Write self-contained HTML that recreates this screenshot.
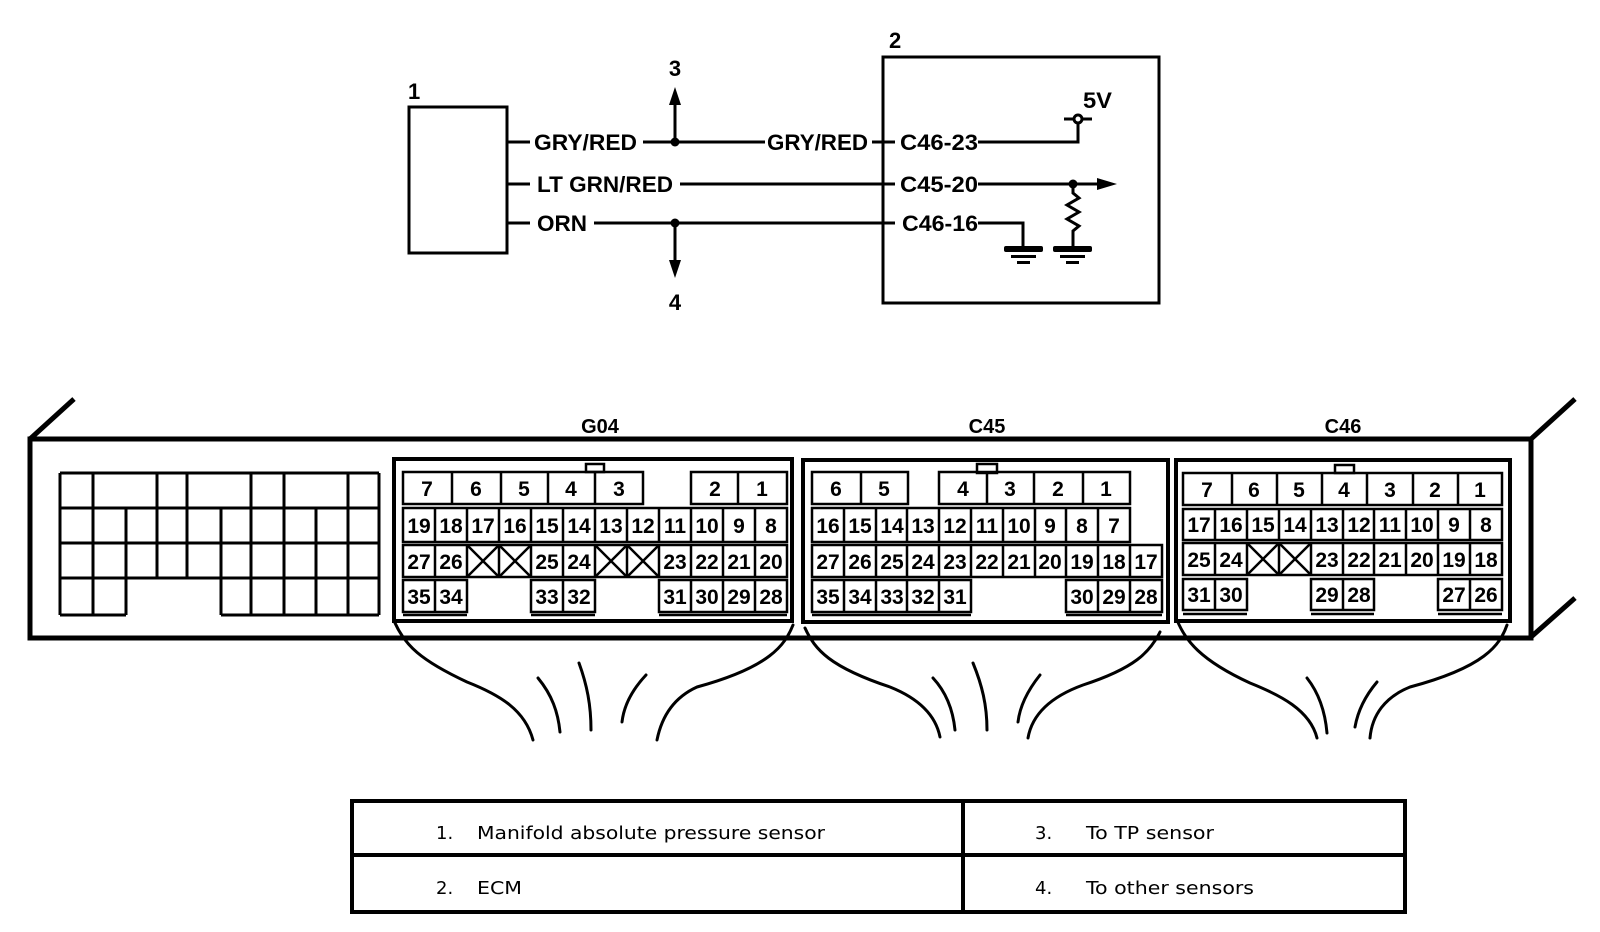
<!DOCTYPE html>
<html><head><meta charset="utf-8"><style>
html,body{margin:0;padding:0;background:#fff;}
svg{display:block;}
.b{font-family:"Liberation Sans",sans-serif;font-weight:bold;}
.n{font-family:"Liberation Sans",sans-serif;font-weight:bold;font-size:21px;text-anchor:middle;}
.t{font-family:"DejaVu Sans","Liberation Sans",sans-serif;font-size:18px;}
</style></head><body>
<svg width="1600" height="932" viewBox="0 0 1600 932" xmlns="http://www.w3.org/2000/svg">
<g fill="none" stroke="#000" stroke-width="3">
<rect x="409" y="107" width="98" height="146"/>
<rect x="883" y="57" width="276" height="246"/>
<line x1="507" y1="142" x2="530" y2="142"/>
<line x1="643" y1="142" x2="765" y2="142"/>
<line x1="872" y1="142" x2="895" y2="142"/>
<line x1="507" y1="184" x2="530" y2="184"/>
<line x1="680" y1="184" x2="895" y2="184"/>
<line x1="507" y1="223" x2="530" y2="223"/>
<line x1="594" y1="223" x2="895" y2="223"/>
<line x1="675" y1="142" x2="675" y2="100"/>
<line x1="675" y1="223" x2="675" y2="265"/>
<polyline points="978,142 1078,142 1078,123"/>
<circle cx="1078" cy="119" r="4" fill="#fff"/>
<line x1="1064" y1="119" x2="1074" y2="119"/>
<line x1="1082" y1="119" x2="1092" y2="119"/>
<line x1="978" y1="184" x2="1100" y2="184"/>
<polyline points="978,223 1023,223 1023,249"/>
<polyline points="1073,184 1073,193 1079,198 1067,205 1079,212 1067,219 1079,226 1073,231 1073,249"/>
</g>
<g fill="#000">
<circle cx="675" cy="142" r="4.5"/>
<circle cx="675" cy="223" r="4.5"/>
<circle cx="1073" cy="184" r="4.5"/>
<polygon points="675,87 669,105 681,105"/>
<polygon points="675,278 669,260 681,260"/>
<polygon points="1117,184 1097,178 1097,190"/>
<rect x="1004" y="246" width="39" height="6" rx="2"/>
<rect x="1011" y="255" width="25" height="3"/>
<rect x="1017" y="261" width="13" height="3"/>
<rect x="1053" y="246" width="39" height="6" rx="2"/>
<rect x="1060" y="255" width="25" height="3"/>
<rect x="1066" y="261" width="13" height="3"/>
</g>
<g class="b" font-size="22">
<text x="408" y="99">1</text>
<text x="889" y="48">2</text>
<text x="675" y="76" text-anchor="middle">3</text>
<text x="675" y="310" text-anchor="middle">4</text>
<text x="534" y="150" textLength="103" lengthAdjust="spacingAndGlyphs">GRY/RED</text>
<text x="767" y="150" textLength="101" lengthAdjust="spacingAndGlyphs">GRY/RED</text>
<text x="537" y="192" textLength="136" lengthAdjust="spacingAndGlyphs">LT GRN/RED</text>
<text x="537" y="231" textLength="50" lengthAdjust="spacingAndGlyphs">ORN</text>
<text x="900" y="150" textLength="78" lengthAdjust="spacingAndGlyphs">C46-23</text>
<text x="900" y="192" textLength="78" lengthAdjust="spacingAndGlyphs">C45-20</text>
<text x="902" y="231" textLength="76" lengthAdjust="spacingAndGlyphs">C46-16</text>
<text x="1083" y="108" textLength="29" lengthAdjust="spacingAndGlyphs">5V</text>
</g>

<g fill="none" stroke="#000" stroke-width="5">
<rect x="30" y="439" width="1501" height="199"/>
<line x1="30" y1="439" x2="74" y2="399"/>
<line x1="1531" y1="439" x2="1575" y2="399"/>
<line x1="1531" y1="637" x2="1575" y2="598"/>
</g>
<g fill="none" stroke="#000" stroke-width="3">
<path d="M60 473H379M60 508H379M60 543H379M60 578H379M60 615H126M221 615H379
M60 473V615M379 473V615M93 473V615M126 508V615M157 473V578M187 473V578M221 508V615M251 473V615M284 473V615M316 508V615M348 473V615"/>
</g>
<g fill="none" stroke="#000" stroke-width="4">
<rect x="394" y="459" width="398" height="162"/>
<rect x="803" y="460" width="365" height="162"/>
<rect x="1176" y="460" width="334" height="161"/>
</g>
<g fill="none" stroke="#000" stroke-width="2.5">
<rect x="586" y="464" width="18" height="8"/>
<rect x="977" y="464" width="20" height="9"/>
<rect x="1335" y="465" width="19" height="8"/>
<rect x="403" y="472" width="240" height="32"/>
<path d="M452 472V504M501 472V504M548 472V504M595 472V504"/>
<rect x="691" y="472" width="96" height="32"/>
<path d="M738 472V504"/>
<rect x="403" y="508" width="384" height="34"/>
<path d="M435 508V542M467 508V542M499 508V542M531 508V542M563 508V542M595 508V542M627 508V542M659 508V542M691 508V542M723 508V542M755 508V542"/>
<rect x="403" y="545" width="384" height="32"/>
<path d="M435 545V577M467 545V577M499 545V577M531 545V577M563 545V577M595 545V577M627 545V577M659 545V577M691 545V577M723 545V577M755 545V577"/>
<path d="M467 545L499 577M499 545L467 577M499 545L531 577M531 545L499 577M595 545L627 577M627 545L595 577M627 545L659 577M659 545L627 577"/>
<rect x="403" y="580" width="64" height="32"/><path d="M435 580V612M403 615H467"/>
<rect x="531" y="580" width="64" height="32"/><path d="M563 580V612M531 615H595"/>
<rect x="659" y="580" width="128" height="32"/><path d="M691 580V612M723 580V612M755 580V612M659 615H787"/>
<rect x="812" y="472" width="96" height="32"/><path d="M861 472V504"/>
<rect x="939" y="472" width="191" height="32"/><path d="M987 472V504M1034 472V504M1083 472V504"/>
<rect x="812" y="508" width="318" height="34"/>
<path d="M844 508V542M876 508V542M907 508V542M939 508V542M971 508V542M1003 508V542M1035 508V542M1066 508V542M1098 508V542"/>
<rect x="812" y="545" width="350" height="32"/>
<path d="M844 545V577M876 545V577M907 545V577M939 545V577M971 545V577M1003 545V577M1035 545V577M1066 545V577M1098 545V577M1130 545V577"/>
<rect x="812" y="580" width="159" height="32"/><path d="M844 580V612M876 580V612M907 580V612M939 580V612M812 615H971"/>
<rect x="1066" y="580" width="96" height="32"/><path d="M1098 580V612M1130 580V612M1066 615H1162"/>
<rect x="1183" y="473" width="319" height="32"/>
<path d="M1232 473V505M1277 473V505M1322 473V505M1367 473V505M1413 473V505M1458 473V505"/>
<rect x="1183" y="509" width="319" height="31"/>
<path d="M1215 509V540M1247 509V540M1279 509V540M1311 509V540M1343 509V540M1374 509V540M1406 509V540M1438 509V540M1470 509V540"/>
<rect x="1183" y="543" width="319" height="32"/>
<path d="M1215 543V575M1247 543V575M1279 543V575M1311 543V575M1343 543V575M1374 543V575M1406 543V575M1438 543V575M1470 543V575"/>
<path d="M1247 543L1279 575M1279 543L1247 575M1279 543L1311 575M1311 543L1279 575"/>
<rect x="1183" y="579" width="64" height="31"/><path d="M1215 579V610M1183 614H1247"/>
<rect x="1311" y="579" width="63" height="31"/><path d="M1343 579V610M1311 614H1374"/>
<rect x="1438" y="579" width="64" height="31"/><path d="M1470 579V610M1438 614H1502"/>
</g>
<g class="b" font-size="20" text-anchor="middle">
<text x="600" y="433">G04</text>
<text x="987" y="433">C45</text>
<text x="1343" y="433">C46</text>
</g>
<g class="n">
<text x="427" y="496">7</text><text x="476" y="496">6</text><text x="524" y="496">5</text><text x="571" y="496">4</text><text x="619" y="496">3</text><text x="715" y="496">2</text><text x="762" y="496">1</text>
<text x="419" y="533">19</text><text x="451" y="533">18</text><text x="483" y="533">17</text><text x="515" y="533">16</text><text x="547" y="533">15</text><text x="579" y="533">14</text><text x="611" y="533">13</text><text x="643" y="533">12</text><text x="675" y="533">11</text><text x="707" y="533">10</text><text x="739" y="533">9</text><text x="771" y="533">8</text>
<text x="419" y="569">27</text><text x="451" y="569">26</text><text x="547" y="569">25</text><text x="579" y="569">24</text><text x="675" y="569">23</text><text x="707" y="569">22</text><text x="739" y="569">21</text><text x="771" y="569">20</text>
<text x="419" y="604">35</text><text x="451" y="604">34</text><text x="547" y="604">33</text><text x="579" y="604">32</text><text x="675" y="604">31</text><text x="707" y="604">30</text><text x="739" y="604">29</text><text x="771" y="604">28</text>
<text x="836" y="496">6</text><text x="884" y="496">5</text><text x="963" y="496">4</text><text x="1010" y="496">3</text><text x="1058" y="496">2</text><text x="1106" y="496">1</text>
<text x="828" y="533">16</text><text x="860" y="533">15</text><text x="892" y="533">14</text><text x="923" y="533">13</text><text x="955" y="533">12</text><text x="987" y="533">11</text><text x="1019" y="533">10</text><text x="1050" y="533">9</text><text x="1082" y="533">8</text><text x="1114" y="533">7</text>
<text x="828" y="569">27</text><text x="860" y="569">26</text><text x="892" y="569">25</text><text x="923" y="569">24</text><text x="955" y="569">23</text><text x="987" y="569">22</text><text x="1019" y="569">21</text><text x="1050" y="569">20</text><text x="1082" y="569">19</text><text x="1114" y="569">18</text><text x="1146" y="569">17</text>
<text x="828" y="604">35</text><text x="860" y="604">34</text><text x="892" y="604">33</text><text x="923" y="604">32</text><text x="955" y="604">31</text><text x="1082" y="604">30</text><text x="1114" y="604">29</text><text x="1146" y="604">28</text>
<text x="1207" y="497">7</text><text x="1254" y="497">6</text><text x="1299" y="497">5</text><text x="1344" y="497">4</text><text x="1390" y="497">3</text><text x="1435" y="497">2</text><text x="1480" y="497">1</text>
<text x="1199" y="532">17</text><text x="1231" y="532">16</text><text x="1263" y="532">15</text><text x="1295" y="532">14</text><text x="1327" y="532">13</text><text x="1359" y="532">12</text><text x="1390" y="532">11</text><text x="1422" y="532">10</text><text x="1454" y="532">9</text><text x="1486" y="532">8</text>
<text x="1199" y="567">25</text><text x="1231" y="567">24</text><text x="1327" y="567">23</text><text x="1359" y="567">22</text><text x="1390" y="567">21</text><text x="1422" y="567">20</text><text x="1454" y="567">19</text><text x="1486" y="567">18</text>
<text x="1199" y="602">31</text><text x="1231" y="602">30</text><text x="1327" y="602">29</text><text x="1359" y="602">28</text><text x="1454" y="602">27</text><text x="1486" y="602">26</text>
</g>
<g fill="none" stroke="#000" stroke-width="3" stroke-linecap="round">
<path d="M395 623 C405 645, 420 660, 467 682 C500 695, 525 710, 533 740"/>
<path d="M793 625 C785 645, 770 667, 697 687 C675 697, 662 715, 657 740"/>
<path d="M538 678 C552 695, 558 712, 560 732"/>
<path d="M579 663 C587 685, 591 705, 591 730"/>
<path d="M646 675 C632 690, 624 705, 622 722"/>
<path d="M805 628 C815 650, 830 667, 890 687 C915 697, 935 712, 940 737"/>
<path d="M1160 632 C1150 652, 1135 668, 1083 685 C1050 697, 1032 715, 1028 738"/>
<path d="M933 678 C946 692, 953 710, 955 730"/>
<path d="M973 663 C982 685, 987 705, 987 730"/>
<path d="M1040 675 C1028 690, 1020 705, 1018 722"/>
<path d="M1177 620 C1185 640, 1200 660, 1250 683 C1280 695, 1310 710, 1317 738"/>
<path d="M1507 625 C1500 645, 1485 667, 1410 687 C1385 697, 1372 715, 1370 738"/>
<path d="M1307 678 C1318 692, 1325 710, 1327 733"/>
<path d="M1377 682 C1366 695, 1358 710, 1355 727"/>
</g>
<g fill="none" stroke="#000" stroke-width="4">
<rect x="352" y="801" width="1053" height="111"/>
<line x1="352" y1="855" x2="1405" y2="855"/>
<line x1="963" y1="801" x2="963" y2="912"/>
</g>
<g class="t" fill="#000">
<text x="436" y="839">1.</text>
<text x="477" y="839" textLength="348" lengthAdjust="spacingAndGlyphs">Manifold absolute pressure sensor</text>
<text x="436" y="894">2.</text>
<text x="477" y="894" textLength="45" lengthAdjust="spacingAndGlyphs">ECM</text>
<text x="1035" y="839">3.</text>
<text x="1086" y="839" textLength="128" lengthAdjust="spacingAndGlyphs">To TP sensor</text>
<text x="1035" y="894">4.</text>
<text x="1086" y="894" textLength="168" lengthAdjust="spacingAndGlyphs">To other sensors</text>
</g>
</svg>
</body></html>
